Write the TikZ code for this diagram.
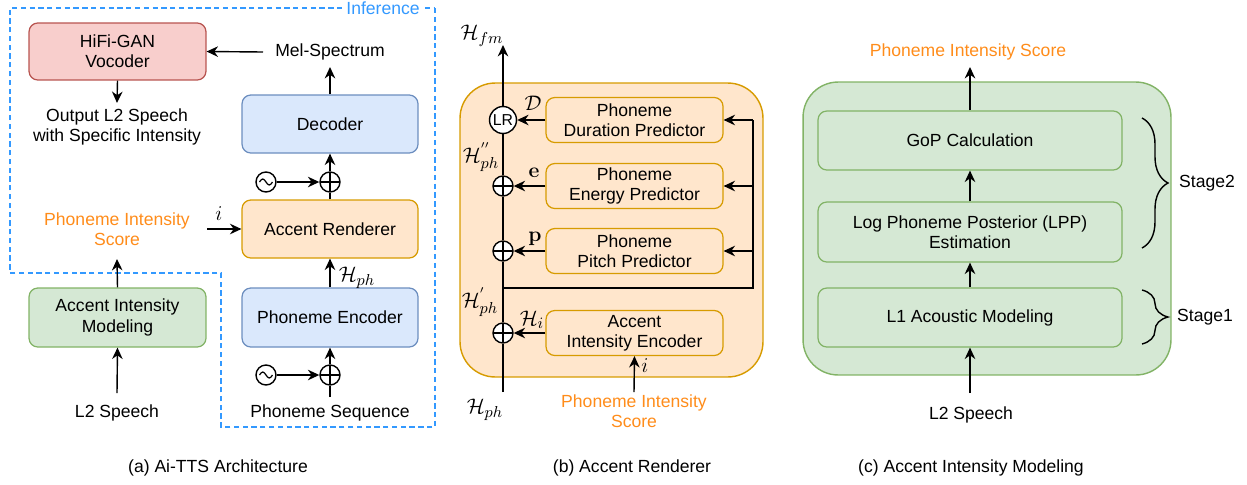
\documentclass[tikz,border=0pt]{standalone}
\usepackage[no-math]{fontspec}
\setmainfont{Liberation Sans}
\usetikzlibrary{arrows.meta,decorations.pathreplacing,shapes.geometric}
\definecolor{orangetxt}{RGB}{255,140,26}
\definecolor{infblue}{RGB}{51,153,255}
\definecolor{redfill}{HTML}{F8CECC}\definecolor{reddraw}{HTML}{B85450}
\definecolor{bluefill}{HTML}{DAE8FC}\definecolor{bluedraw}{HTML}{6C8EBF}
\definecolor{orfill}{HTML}{FFE6CC}\definecolor{ordraw}{HTML}{D79B00}
\definecolor{grfill}{HTML}{D5E8D4}\definecolor{grdraw}{HTML}{82B366}
\begin{document}
\begin{tikzpicture}[x=0.02cm,y=-0.02cm,font=\fontsize{10}{11.5}\selectfont,
  box/.style={draw,rounded corners=5pt,line width=0.7pt,align=center,inner sep=0pt},
  txt/.style={align=center,inner sep=2pt},
  mlab/.style={inner sep=1pt,font=\fontsize{12.5}{13}\selectfont},
  ln/.style={line width=0.8pt},
  arr/.style={line width=0.8pt,-{Stealth[length=6.5pt,width=6pt]}},
  sumnode/.style={circle,draw,line width=0.8pt,minimum size=0.4cm,inner sep=0pt,fill=white,
    path picture={\draw[line width=0.8pt] (path picture bounding box.north) -- (path picture bounding box.south)
      (path picture bounding box.west) -- (path picture bounding box.east);}},
  sinnode/.style={circle,draw,line width=0.8pt,minimum size=0.4cm,inner sep=0pt,fill=white,
    path picture={\draw[line width=0.7pt] ([xshift=-0.13cm]path picture bounding box.center)
      sin ++(0.065cm,0.06cm) cos ++(0.065cm,-0.06cm) sin ++(0.065cm,-0.06cm) cos ++(0.065cm,0.06cm);}},
  brc/.style={line width=0.8pt,decorate,decoration={brace,amplitude=0.52cm}}
]
\useasboundingbox (0,0) rectangle (1247,484);

% ---------------- Panel (a) ----------------
\draw[infblue,line width=0.8pt,dash pattern=on 3pt off 2pt] (435,8) -- (435,427) -- (221,427) -- (221,273) -- (10,273) -- (10,8) -- cycle;
\node[fill=white,text=infblue,inner sep=1.5pt] (inf) at (383,8) {Inference};

\node[box,fill=redfill,draw=reddraw,minimum width=3.54cm,minimum height=1.14cm] (voc) at (117.5,51.5) {HiFi-GAN\\Vocoder};
\node[txt] (mel) at (330,52) {Mel-Spectrum};
\node[txt] (out) at (117,127) {Output L2 Speech\\with Specific Intensity};
\node[box,fill=bluefill,draw=bluedraw,minimum width=3.52cm,minimum height=1.16cm] (dec) at (330,124) {Decoder};
\node[sumnode] (plusA) at (330,182) {};
\node[sinnode] (sinA) at (266,182) {};
\node[box,fill=orfill,draw=ordraw,minimum width=3.52cm,minimum height=1.16cm] (ar) at (330,229) {Accent Renderer};
\node[txt,text=orangetxt] (pis) at (117,229) {Phoneme Intensity\\Score};
\node[box,fill=grfill,draw=grdraw,minimum width=3.54cm,minimum height=1.18cm] (aim) at (117.5,317.5) {Accent Intensity\\Modeling};
\node[box,fill=bluefill,draw=bluedraw,minimum width=3.52cm,minimum height=1.18cm] (pe) at (330,317.5) {Phoneme Encoder};
\node[sumnode] (plusB) at (330,375) {};
\node[sinnode] (sinB) at (266,375) {};
\node[txt] (seq) at (330,413) {Phoneme Sequence};
\node[txt] (l2a) at (117,413) {L2 Speech};
\node[txt] (capa) at (218,468) {(a) Ai-TTS Architecture};

\coordinate (melL) at (263,52);
\coordinate (melB) at (330,67);
\coordinate (outT) at (117,103);
\coordinate (iA) at (207,229);
\coordinate (pisB) at (117,259);
\coordinate (l2aT) at (117,393);
\coordinate (seqT) at (330,397);

\draw[arr] (melL) -- (voc.east);
\draw[arr] (voc.south) -- (outT);
\draw[arr] (dec.north) -- (melB);
\draw[arr] (plusA) -- (dec.south);
\draw[arr] (sinA) -- (plusA);
\draw[ln] (ar.north) -- (plusA);
\draw[arr] (iA) -- (ar.west);
\node[mlab] (ilab) at (219,214) {$i$};
\draw[arr] (aim.north) -- (pisB);
\draw[arr] (l2aT) -- (aim.south);
\draw[arr] (pe.north) -- (ar.south);
\node[mlab] (hphA) at (357,278) {$\mathcal{H}_{ph}$};
\draw[arr] (plusB) -- (pe.south);
\draw[arr] (sinB) -- (plusB);
\draw[ln] (seqT) -- (plusB);

% ---------------- Panel (b) ----------------
\node[draw=ordraw,fill=orfill,line width=0.8pt,rounded corners=20pt,minimum width=6.06cm,minimum height=5.88cm,inner sep=0pt] (arB) at (611.5,230) {};
\node[box,fill=orfill,draw=ordraw,minimum width=3.54cm,minimum height=0.9cm] (dp) at (634.5,120) {Phoneme\\Duration Predictor};
\node[box,fill=orfill,draw=ordraw,minimum width=3.54cm,minimum height=0.9cm] (ep) at (634.5,186) {Phoneme\\Energy Predictor};
\node[box,fill=orfill,draw=ordraw,minimum width=3.54cm,minimum height=0.9cm] (pp) at (634.5,251) {Phoneme\\Pitch Predictor};
\node[box,fill=orfill,draw=ordraw,minimum width=3.54cm,minimum height=0.9cm] (aie) at (634.5,333) {Accent\\Intensity Encoder};
\node[circle,draw,line width=0.8pt,fill=white,minimum size=0.54cm,inner sep=0pt,font=\fontsize{9}{9}\selectfont] (LR) at (503,120) {LR};
\node[sumnode] (plus1) at (503,186) {};
\node[sumnode] (plus2) at (503,251) {};
\node[sumnode] (plus3) at (503,333) {};
\node[txt,text=orangetxt] (pisb) at (634,411) {Phoneme Intensity\\Score};
\node[txt] (capb) at (632,468) {(b) Accent Renderer};

\coordinate (hph) at (503,392);
\coordinate (fmtip) at (503,45);
\coordinate (mj) at (503,288);
\coordinate (fbj) at (753,288);
\coordinate (fb1) at (753,120);
\coordinate (fb2) at (753,186);
\coordinate (fb3) at (753,251);
\coordinate (pisbT) at (634,392);

\draw[ln] (hph) -- (plus3);
\draw[ln] (plus3) -- (plus2);
\draw[ln] (plus2) -- (plus1);
\draw[ln] (plus1) -- (LR);
\draw[arr] (LR) -- (fmtip);
\draw[ln] (mj) -- (fbj) -- (fb1);
\draw[arr] (fb1) -- (dp.east);
\draw[arr] (fb2) -- (ep.east);
\draw[arr] (fb3) -- (pp.east);
\draw[arr] (dp.west) -- (LR);
\draw[arr] (ep.west) -- (plus1);
\draw[arr] (pp.west) -- (plus2);
\draw[arr] (aie.west) -- (plus3);
\draw[arr] (pisbT) -- (aie.south);

\node[mlab] (lfm) at (482,36) {$\mathcal{H}_{fm}$};
\node[mlab] (lD) at (533,103) {$\mathcal{D}$};
\node[mlab] (lpp2) at (481,157) {$\mathcal{H}^{''}_{ph}$};
\node[mlab] (le) at (534,173) {$\mathbf{e}$};
\node[mlab] (lp) at (535,239) {$\mathbf{p}$};
\node[mlab] (lpp1) at (480,302) {$\mathcal{H}^{'}_{ph}$};
\node[mlab] (lHi) at (532,320) {$\mathcal{H}_{i}$};
\node[mlab] (li) at (645,366) {$i$};
\node[mlab] (lph) at (485,410) {$\mathcal{H}_{ph}$};

% ---------------- Panel (c) ----------------
\node[draw=grdraw,fill=grfill,line width=0.8pt,rounded corners=20pt,minimum width=7.36cm,minimum height=5.86cm,inner sep=0pt] (aimC) at (987,228.5) {};
\node[box,fill=grfill,draw=grdraw,minimum width=6.08cm,minimum height=1.18cm] (gop) at (970,140.5) {GoP Calculation};
\node[box,fill=grfill,draw=grdraw,minimum width=6.08cm,minimum height=1.2cm] (lpp) at (970,232) {Log Phoneme Posterior (LPP)\\Estimation};
\node[box,fill=grfill,draw=grdraw,minimum width=6.08cm,minimum height=1.18cm] (l1) at (970,317.5) {L1 Acoustic Modeling};
\node[txt,text=orangetxt] (pisc) at (968,52) {Phoneme Intensity Score};
\node[txt] (l2c) at (971,415) {L2 Speech};
\node[txt] (st2) at (1207,183) {Stage2};
\node[txt] (st1) at (1205,317) {Stage1};
\node[txt] (capc) at (971,468) {(c) Accent Intensity Modeling};

\coordinate (piscB) at (970,67);
\coordinate (l2cT) at (970,393);
\draw[arr] (gop.north) -- (piscB);
\draw[arr] (lpp.north) -- (gop.south);
\draw[arr] (l1.north) -- (lpp.south);
\draw[arr] (l2cT) -- (l1.south);

\coordinate (b2a) at (1142,118);
\coordinate (b2b) at (1142,248);
\coordinate (b1a) at (1142,290);
\coordinate (b1b) at (1142,344);
\draw[brc] (b2a) -- (b2b);
\draw[brc] (b1a) -- (b1b);
\end{tikzpicture}
\end{document}
